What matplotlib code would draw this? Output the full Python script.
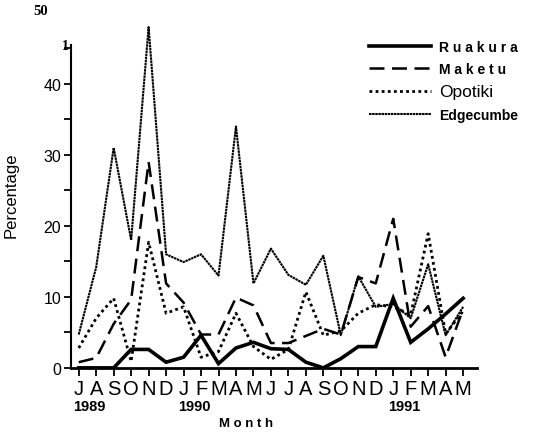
import numpy as np
import matplotlib
matplotlib.use("Agg")
import matplotlib.pyplot as plt
import matplotlib.transforms as mtransforms

months = ["J", "A", "S", "O", "N", "D", "J", "F", "M", "A", "M", "J",
          "J", "A", "S", "O", "N", "D", "J", "F", "M", "A", "M"]
years = ["1989", "1990", "1991"]
year_start = [0, 6, 18]

ruakura = [0, 0, 0, 2.6, 2.6, 0.8, 1.5, 4.6, 0.6, 2.8, 3.6, 2.7,
           2.6, 0.8, 0, 1.3, 3, 3, 9.8, 3.6, 5.5, 7.6, 9.8]
maketu = [0.8, 1.4, 6.2, 9.6, 29, 11.9, 9.2, 4.7, 4.7, 9.9, 8.8, 3.5,
          3.5, 4.5, 5.5, 4.7, 12.8, 11.9, 21, 5.8, 8.7, 1.5, 8.3]
opotiki = [2.8, 7, 9.8, 0.9, 17.7, 7.7, 8.6, 1.5, 2.3, 7.7, 3, 1.2,
           2.6, 10.7, 4.6, 5.2, 7.7, 8.9, 8.6, 7.5, 18.9, 4.8, 8]
edgecumbe = [4.7, 14.2, 31, 18, 48, 16, 14.9, 16, 13, 34, 11.9, 16.8,
             13.1, 11.7, 15.8, 4.6, 12.9, 8.6, 9, 7, 14.6, 4.6, 8.6]

plt.rcParams['font.family'] = ['Liberation Sans', 'DejaVu Sans']

x = np.arange(len(months))

fig = plt.figure(figsize=(5.58, 4.35), dpi=100)
ax = fig.add_axes([0.127, 0.152, 0.728, 0.816])

ax.plot(x, ruakura, color='black', lw=2.6, solid_joinstyle='miter', label='R u a k u r a')
ax.plot(x, maketu, color='black', lw=1.8, linestyle=(0, (6, 3)), label='M a k e t u')
ax.plot(x, opotiki, color='black', lw=2.0, linestyle=(0, (1, 1.2)), label='Opotiki')
ax.plot(x, edgecumbe, color='black', lw=1.5, linestyle=(0, (1.2, 0.3)), label='Edgecumbe')

ax.set_xlim(-0.45, 22.8)
ax.set_ylim(0, 50)

for s in ['top', 'right']:
    ax.spines[s].set_visible(False)
ax.spines['left'].set_bounds(0, 45.5)
ax.spines['left'].set_linewidth(1.5)
ax.spines['bottom'].set_linewidth(2.0)

ax.set_xticks(x)
ax.set_xticklabels(months, fontsize=14.5)
ax.tick_params(axis='x', direction='out', length=6, width=1.3, pad=2)
ax.set_yticks([0, 10, 20, 30, 40])
ax.set_yticklabels(['0', '10', '20', '30', '40'], fontsize=11.5)
ax.set_yticks(np.arange(5, 50, 10), minor=True)
ax.tick_params(axis='y', which='both', direction='out', length=5, width=1.3, pad=2)

trans = mtransforms.blended_transform_factory(ax.transData, ax.transAxes)
for yr, st in zip(years, year_start):
    ax.text(st - 0.3, -0.107, yr, transform=trans, ha='left', va='center',
            fontsize=10.5, fontweight='bold')
ax.text(9.6, -0.155, "M o n t h", transform=trans, ha='center', va='center',
        fontsize=9.5, fontweight='bold')

# odd labels from the scan
ytrans = mtransforms.blended_transform_factory(ax.transAxes, ax.transData)
ax.text(-0.075, 50.3, "50", transform=ytrans, ha='center', va='center',
        fontsize=10.5, fontweight='bold', family='Liberation Serif')
ax.text(-0.005, 45.4, "1", transform=ytrans, ha='right', va='center',
        fontsize=10, fontweight='bold', family='Liberation Serif')

ax.set_ylabel("Percentage", fontsize=12)
ax.yaxis.set_label_coords(-0.128, 0.49)

leg = ax.legend(loc='upper left', bbox_to_anchor=(0.735, 0.925), frameon=False,
                fontsize=10, handlelength=4.4, handletextpad=0.6,
                labelspacing=0.6, borderpad=0, borderaxespad=0)
texts = leg.get_texts()
texts[0].set_fontweight('bold')
texts[1].set_fontweight('bold')
texts[2].set_fontsize(12.5)
texts[3].set_fontweight('bold')

fig.savefig("out.png", dpi=100)
